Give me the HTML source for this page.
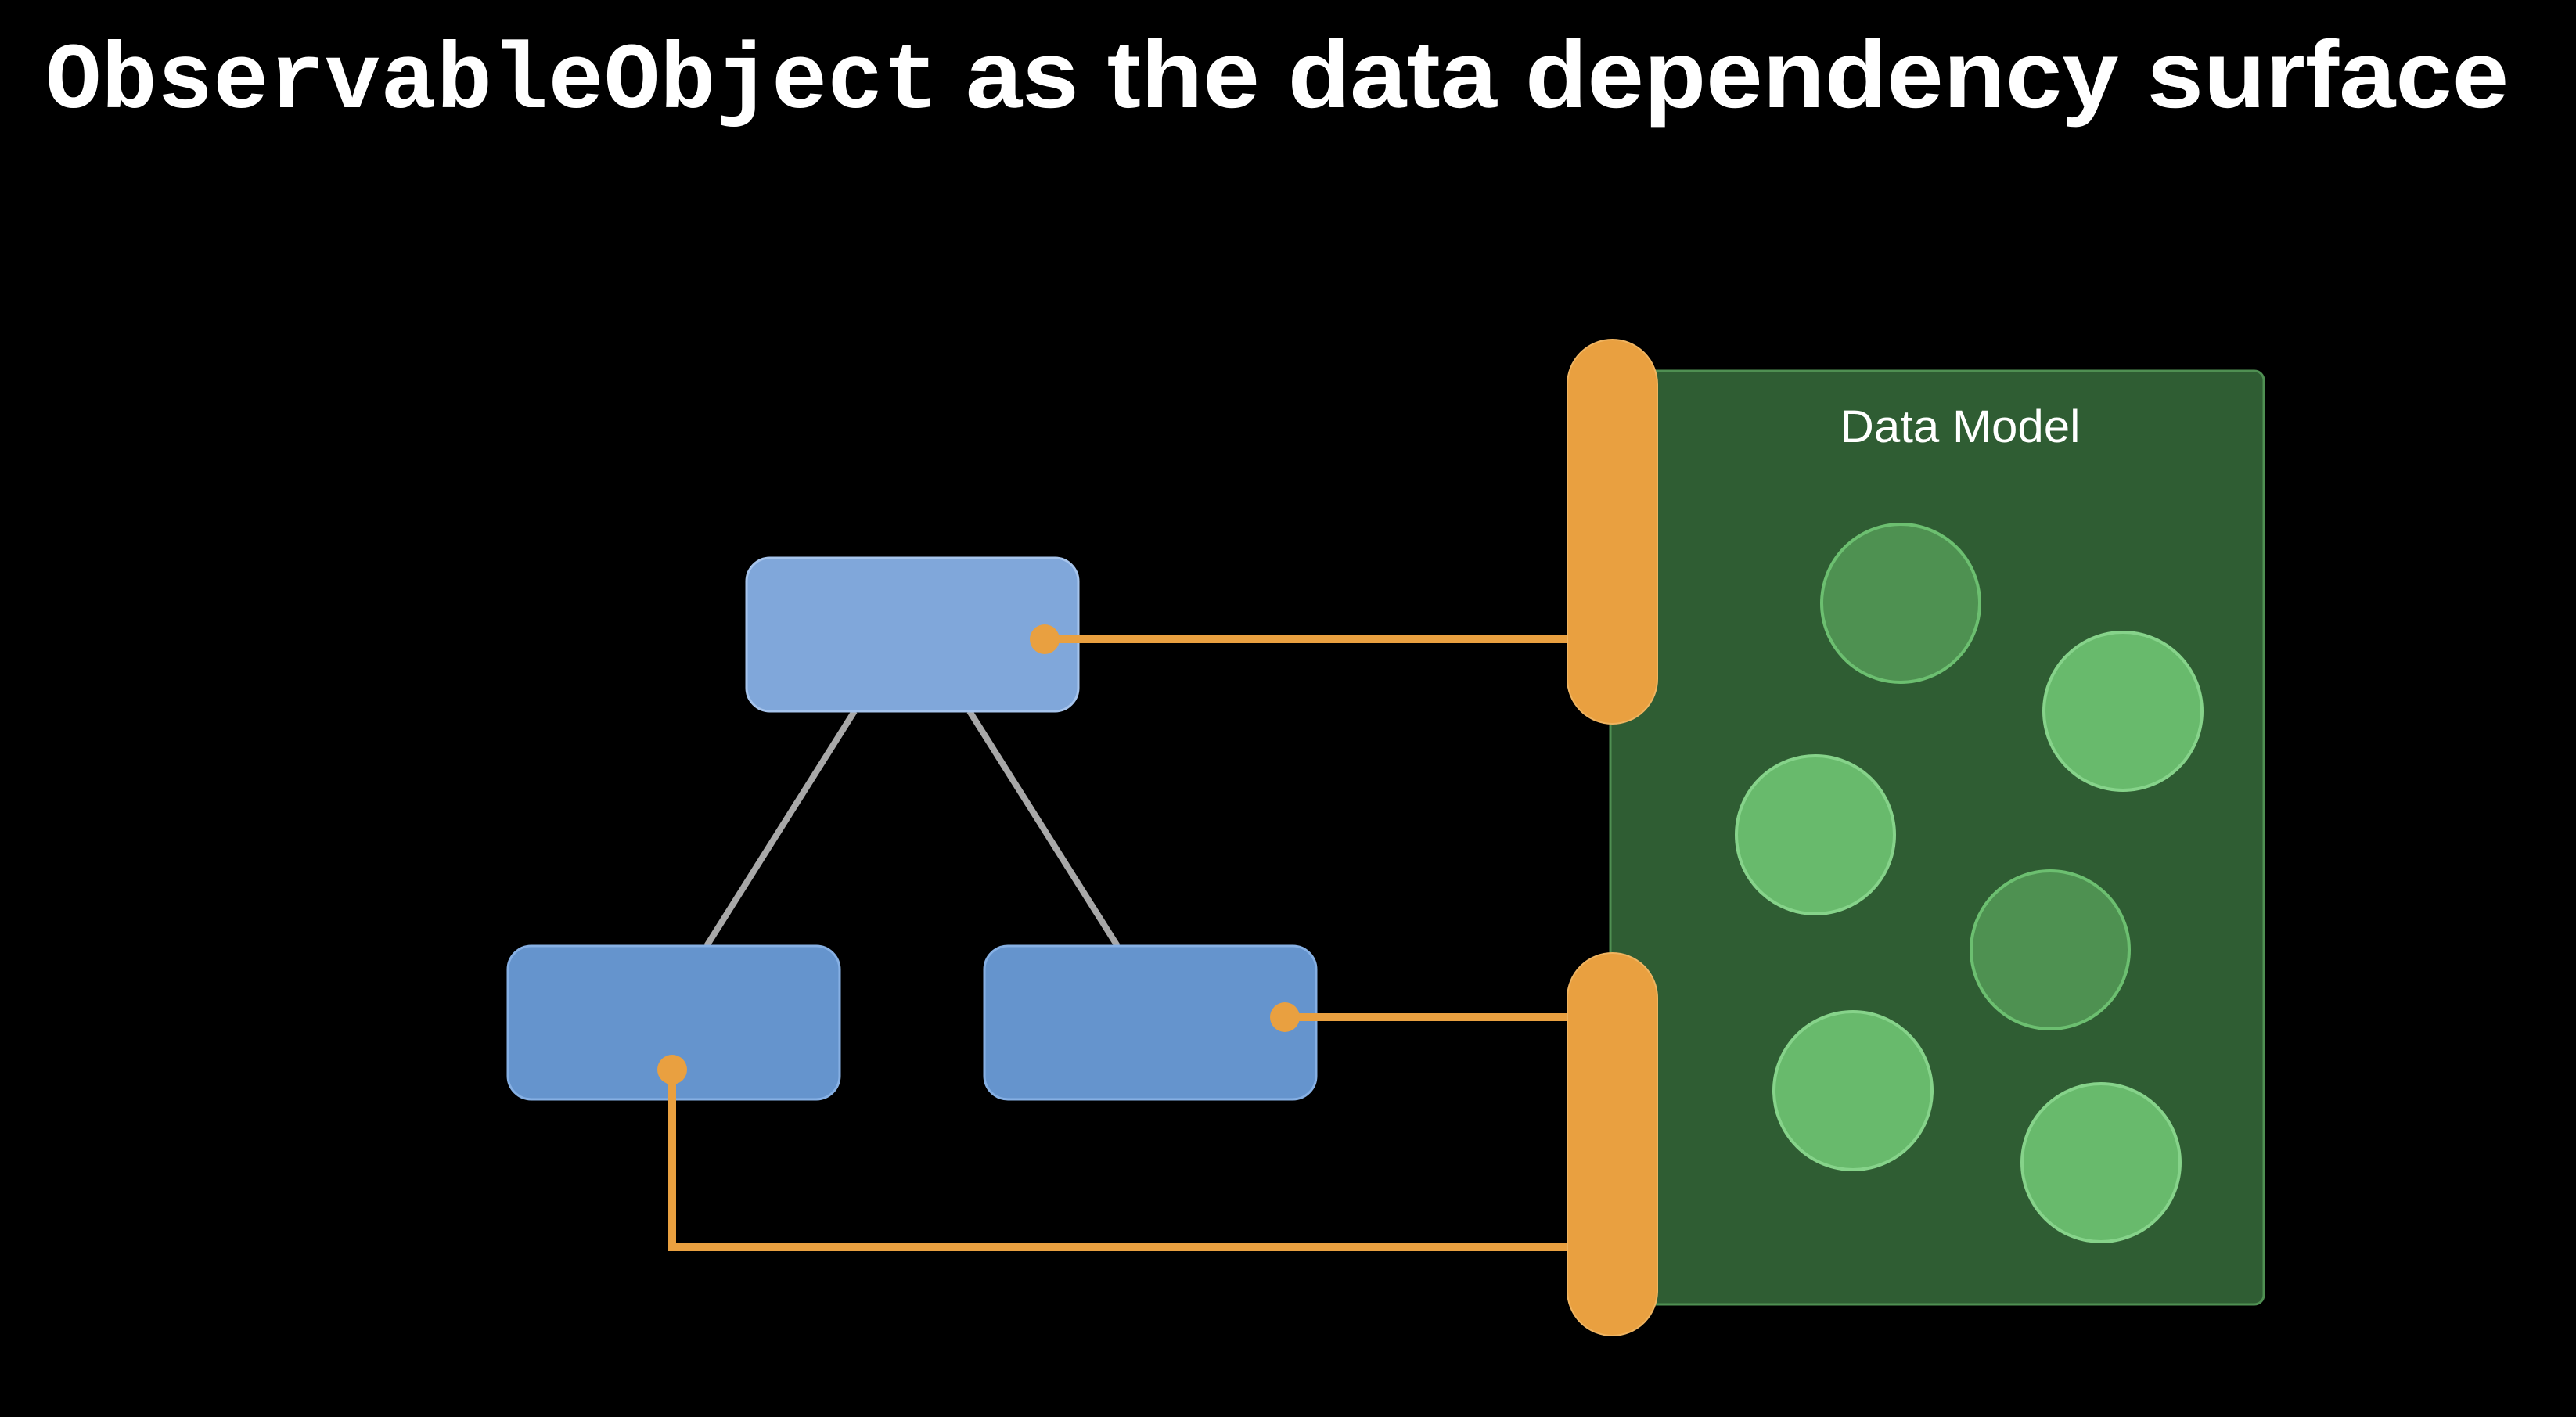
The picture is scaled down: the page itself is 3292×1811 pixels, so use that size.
<!DOCTYPE html>
<html><head><meta charset="utf-8"><style>
html,body{margin:0;padding:0;background:#000;}
svg{display:block}
</style></head><body>
<svg width="3292" height="1811" viewBox="0 0 3292 1811" xmlns="http://www.w3.org/2000/svg">
<rect width="3292" height="1811" fill="#000"/>
<text x="58" y="137" fill="#fff" font-family="Liberation Mono, monospace" font-weight="bold" font-size="120" textLength="1142" lengthAdjust="spacingAndGlyphs">ObservableObject</text>
<text x="1234" y="137" fill="#fff" font-family="Liberation Sans, sans-serif" font-weight="bold" font-size="122" textLength="1972" lengthAdjust="spacingAndGlyphs">as the data dependency surface</text>

<!-- green panel -->
<rect x="2058" y="474" width="835" height="1193" rx="12" fill="#2f5d33" stroke="#4f8f52" stroke-width="3"/>
<text x="2505" y="565" fill="#fff" font-family="Liberation Sans, sans-serif" font-size="58" text-anchor="middle" textLength="307" lengthAdjust="spacingAndGlyphs">Data Model</text>
<g stroke-width="4">
<circle cx="2429" cy="771" r="101" fill="#4e9151" stroke="#6cbf70"/>
<circle cx="2620" cy="1214" r="101" fill="#4e9151" stroke="#6cbf70"/>
<circle cx="2713" cy="909" r="101" fill="#68ba6c" stroke="#86d38a"/>
<circle cx="2320" cy="1067" r="101" fill="#68ba6c" stroke="#86d38a"/>
<circle cx="2368" cy="1394" r="101" fill="#68ba6c" stroke="#86d38a"/>
<circle cx="2685" cy="1486" r="101" fill="#68ba6c" stroke="#86d38a"/>
</g>

<!-- gray tree lines -->
<line x1="1092" y1="909" x2="903" y2="1209" stroke="#a8a8a8" stroke-width="8"/>
<line x1="1239" y1="909" x2="1428" y2="1209" stroke="#a8a8a8" stroke-width="8"/>

<!-- blue boxes -->
<rect x="954" y="713" width="424" height="196" rx="30" fill="#80a7da" stroke="#a6c4ec" stroke-width="3"/>
<rect x="649" y="1209" width="424" height="196" rx="30" fill="#6594cd" stroke="#86b0e4" stroke-width="3"/>
<rect x="1258" y="1209" width="424" height="196" rx="30" fill="#6594cd" stroke="#86b0e4" stroke-width="3"/>

<!-- orange connectors -->
<g stroke="#e9a040" stroke-width="10" fill="none">
<line x1="1335" y1="817" x2="2010" y2="817"/>
<line x1="1642" y1="1300" x2="2010" y2="1300"/>
<polyline points="859,1367 859,1594 2010,1594"/>
</g>
<g fill="#e9a040">
<circle cx="1335" cy="817" r="19"/>
<circle cx="1642" cy="1300" r="19"/>
<circle cx="859" cy="1367" r="19"/>
<rect x="2003" y="434" width="115" height="491" rx="57.5" stroke="#f0b460" stroke-width="2"/>
<rect x="2003" y="1218" width="115" height="489" rx="57.5" stroke="#f0b460" stroke-width="2"/>
</g>
</svg>
</body></html>
